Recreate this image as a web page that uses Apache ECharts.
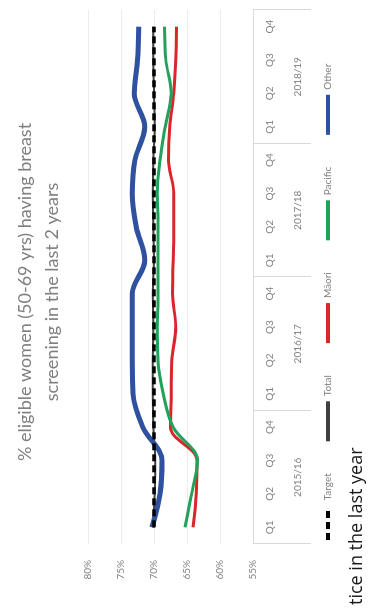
<!DOCTYPE html>
<html>
<head>
<meta charset="utf-8">
<script src="https://cdn.jsdelivr.net/npm/echarts@6/dist/echarts.min.js"></script>
<style>
  html, body { margin: 0; padding: 0; background: #fff; overflow: hidden; width: 369px; height: 609px; }
  /* the source picture is the chart turned a quarter turn to the left */
  #chart { position: absolute; left: 0; top: 0; width: 609px; height: 369px;
           transform-origin: 0 0; transform: translateY(609px) rotate(-90deg); }
</style>
</head>
<body>
<div id="chart"></div>
<script>
// quarters Q1 2015/16 .. Q4 2018/19
var quarters = ['Q1', 'Q2', 'Q3', 'Q4', 'Q1', 'Q2', 'Q3', 'Q4', 'Q1', 'Q2', 'Q3', 'Q4', 'Q1', 'Q2', 'Q3', 'Q4']
var years = ['2015/16', '2016/17', '2017/18', '2018/19']

var target = [70, 70, 70, 70, 70, 70, 70, 70, 70, 70, 70, 70, 70, 70, 70, 70]
var total = [70.1, 69.9, 69.8, 70.1, 70.2, 70.2, 70.1, 70.2, 70.0, 70.1, 70.2, 70.1, 69.9, 70.0, 70.1, 70.1]
var maori = [64.1, 63.6, 63.5, 67.5, 67.4, 67.3, 66.7, 67.2, 67.1, 67.0, 67.0, 67.8, 67.6, 67.0, 66.7, 66.6]
var pacific = [65.3, 64.3, 63.4, 67.1, 68.6, 69.4, 69.5, 69.4, 69.4, 69.4, 69.5, 69.1, 68.3, 67.4, 68.2, 68.4]
var other = [70.3, 69.1, 68.8, 71.7, 73.2, 73.3, 73.3, 73.3, 71.4, 72.7, 73.3, 72.9, 71.4, 73.0, 72.5, 72.3]

var yTicks = { min: 55, max: 80, step: 5 }

var grey = '#7f7f7f'
var font = 'Lato'
var dashIcon = 'path://M0,0h7v4h-7z M11,0h7v4h-7z M22,0h7v4h-7z'
var barIcon = 'path://M0,0h40v4h-40z'

var chart = echarts.init(document.getElementById('chart'))

function line(name, data, color, width, extra) {
  return Object.assign({
    name: name,
    type: 'line',
    data: data,
    symbol: 'none',
    smooth: 0.35,
    animation: false,
    lineStyle: { color: color, width: width },
    itemStyle: { color: color }
  }, extra || {})
}

chart.setOption({
  textStyle: { fontFamily: font },
  graphic: [
    {
      type: 'text', x: 317, y: 25,
      style: { text: '% eligible women (50-69 yrs) having breast', font: '18px Lato', fill: grey, textAlign: 'center', textVerticalAlign: 'middle' }
    },
    {
      type: 'text', x: 317, y: 52,
      style: { text: 'screening in the last 2 years', font: '18px Lato', fill: grey, textAlign: 'center', textVerticalAlign: 'middle' }
    },
    {
      type: 'text', x: 4, y: 357,
      style: { text: 'tice in the last year', font: '18px "Open Sans"', fill: '#1a1a1a', textAlign: 'left', textVerticalAlign: 'middle' }
    }
  ],
  grid: { left: 65, right: 10, top: 88, bottom: 116 },
  legend: {
    data: [
      { name: 'Target', icon: dashIcon },
      { name: 'Total', icon: barIcon },
      { name: 'Māori', icon: barIcon },
      { name: 'Pacific', icon: barIcon },
      { name: 'Other', icon: barIcon }
    ],
    left: 64,
    top: 318,
    itemWidth: 40,
    itemHeight: 4,
    itemGap: 32,
    textStyle: { color: grey, fontSize: 10, fontFamily: font }
  },
  xAxis: [
    {
      type: 'category',
      data: quarters,
      boundaryGap: true,
      axisLine: { lineStyle: { color: '#d9d9d9' } },
      axisTick: { show: false },
      axisLabel: { color: grey, fontSize: 10, margin: 12 }
    },
    {
      type: 'category',
      data: years,
      position: 'bottom',
      boundaryGap: true,
      axisLine: { show: false },
      axisTick: { show: true, length: 58, lineStyle: { color: '#d9d9d9' } },
      axisLabel: { color: grey, fontSize: 10, margin: 40 }
    }
  ],
  yAxis: {
    type: 'value',
    min: yTicks.min,
    max: yTicks.max,
    interval: yTicks.step,
    axisLabel: { color: grey, fontSize: 10, margin: 16, formatter: '{value}%' },
    axisLine: { show: false },
    axisTick: { show: false },
    splitLine: { lineStyle: { color: '#ececec' } }
  },
  series: [
    line('Total', total, '#404040', 2),
    line('Māori', maori, '#d9262b', 3),
    line('Pacific', pacific, '#21a159', 3),
    line('Other', other, '#2f52a0', 5),
    line('Target', target, '#000000', 3.5, { smooth: false, lineStyle: { color: '#000', width: 3.5, type: [7, 4] } })
  ]
})
</script>
</body>
</html>
